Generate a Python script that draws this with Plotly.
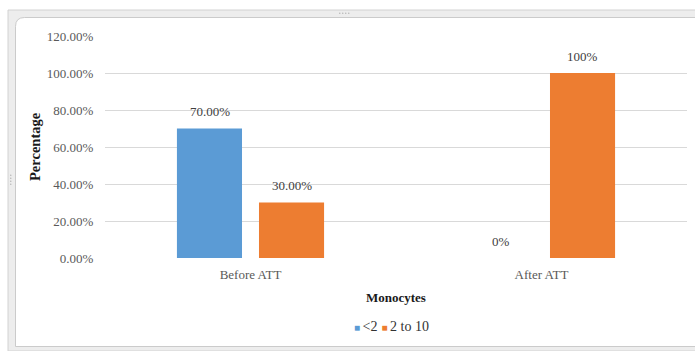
import plotly.graph_objects as go

# ---- data ----
categories = ["Before ATT", "After ATT"]
series_names = ["<2", "2 to 10"]
series_colors = ["#5b9bd5", "#ed7d31"]
values_lt2 = [0.70, 0.00]
values_2to10 = [0.30, 1.00]
label_formats = [".2%", ".0%"]          # per category
y_ticks = [0, 0.2, 0.4, 0.6, 0.8, 1.0, 1.2]

series_values = [values_lt2, values_2to10]

W, H = 695, 351
L, R, T, B = 105, 687, 36, 258          # plot area in pixels
PW, PH = R - L, B - T


def px(x):
    return (x - L) / PW


def py(y):
    return (B - y) / PH


SERIF = "Liberation Serif, Times New Roman, serif"

fig = go.Figure()
offsets = [-41, 41]
for i, (name, vals, col) in enumerate(zip(series_names, series_values, series_colors)):
    fig.add_trace(go.Bar(
        x=categories, y=vals, name=name, marker_color=col,
        marker_line_width=0, showlegend=False,
    ))
    # value labels above each bar
    for cat, v, fmt in zip(categories, vals, label_formats):
        fig.add_annotation(
            x=cat, y=v, xref="x", yref="y", text=format(v, fmt),
            showarrow=False, xshift=offsets[i], yshift=17,
            yanchor="middle", font=dict(family=SERIF, size=13, color="#404040"),
        )

# chart frame (double border with rounded top-left corner)
shapes = [
    dict(type="rect", xref="paper", yref="paper", layer="below",
         x0=px(8), x1=px(702), y0=py(351), y1=py(10),
         fillcolor="#ededed", line=dict(color="#d2d2d2", width=1)),
]
x0, x1, y0, y1, r = 15.5, 702, 17.5, 346.5, 9
path = (f"M {px(x0)},{py(y1)} L {px(x0)},{py(y0 + r)} "
        f"Q {px(x0)},{py(y0)} {px(x0 + r)},{py(y0)} "
        f"L {px(x1)},{py(y0)} L {px(x1)},{py(y1)} Z")
shapes.append(dict(type="path", xref="paper", yref="paper", layer="below", path=path,
                   fillcolor="white", line=dict(color="#cbcbcb", width=1)))
# resize handle dots
for k in range(4):
    shapes.append(dict(type="circle", xref="paper", yref="paper", layer="below",
                       x0=px(339 + 3 * k), x1=px(340.5 + 3 * k), y0=py(14), y1=py(12.5),
                       fillcolor="#b5b5b5", line=dict(width=0)))
    shapes.append(dict(type="circle", xref="paper", yref="paper", layer="below",
                       x0=px(10), x1=px(11.5), y0=py(176 + 3 * k), y1=py(174.5 + 3 * k),
                       fillcolor="#b5b5b5", line=dict(width=0)))

# axis titles
fig.add_annotation(x=px(35), y=0.5, xref="paper", yref="paper", text="<b>Percentage</b>",
                   textangle=-90, showarrow=False, xanchor="center", yanchor="middle",
                   font=dict(family=SERIF, size=14.5, color="#1a1a1a"))
fig.add_annotation(x=0.5, y=py(297), xref="paper", yref="paper", text="<b>Monocytes</b>",
                   showarrow=False, xanchor="center", yanchor="middle",
                   font=dict(family=SERIF, size=13, color="#1a1a1a"))

# legend row
legend_html = "<span style='font-size:8px'>  </span>".join(
    f"<span style='color:{c}; font-size:10px'>■ </span>{n.replace('<', '&lt;')}"
    for n, c in zip(series_names, series_colors)
)
fig.add_annotation(x=px(391), y=py(326), xref="paper", yref="paper", text=legend_html,
                   showarrow=False, xanchor="center", yanchor="middle",
                   font=dict(family=SERIF, size=14, color="#333333"))

fig.update_layout(
    width=W, height=H, autosize=False,
    margin=dict(l=L, r=W - R, t=T, b=H - B),
    paper_bgcolor="white", plot_bgcolor="rgba(0,0,0,0)",
    bargap=0.436, bargroupgap=0.207, barmode="group",
    shapes=shapes, showlegend=False,
)
fig.update_xaxes(
    showgrid=False, showline=False, zeroline=False,
    ticks="outside", ticklen=4, tickcolor="rgba(0,0,0,0)",
    tickfont=dict(family=SERIF, size=13, color="#595959"),
)
fig.update_yaxes(
    range=[0, 1.2], tickvals=y_ticks, tickformat=".2%",
    showgrid=True, gridcolor="#d9d9d9", gridwidth=1,
    zeroline=False, showline=False,
    ticks="outside", ticklen=8, tickcolor="rgba(0,0,0,0)",
    tickfont=dict(family=SERIF, size=13, color="#595959"),
)

fig.write_html("out.html")
